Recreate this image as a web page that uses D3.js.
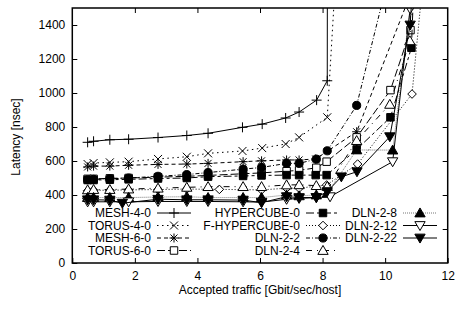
<!DOCTYPE html>
<html>
<head>
<meta charset="utf-8">
<script src="https://cdn.jsdelivr.net/npm/d3@7"></script>
<style>
body { margin: 0; background: #fff; }
svg text { font-family: "Liberation Sans", Arial, sans-serif; font-size: 12px; fill: #000; }
</style>
</head>
<body>
<div id="viz"></div>
<script>
// ---- data ----
var xTicks = [0, 2, 4, 6, 8, 10, 12]
var yTicks = [0, 200, 400, 600, 800, 1000, 1200, 1400]

var mesh40 = [[0.49,710],[0.68,716],[1.2,725],[1.8,728],[2.74,738],[3.66,750],[4.34,763],[5.44,798],[6.07,817],[6.82,853],[7.25,888],[7.81,958],[8.15,1072],[8.16,3000]]
var torus40 = [[0.49,582],[0.68,588],[1.2,592],[1.8,596],[2.74,612],[3.66,625],[4.34,645],[5.44,659],[6.07,676],[6.82,700],[7.25,739],[8.15,857],[8.5,1940]]
var mesh60 = [[0.49,565],[0.68,570],[1.2,570],[1.8,575],[2.74,580],[3.66,582],[4.34,586],[5.46,596],[6.05,601],[6.85,606],[7.25,606],[7.78,612],[9.09,772],[10.85,1600]]
var torus60 = [[0.49,495],[0.68,495],[1.2,498],[1.8,500],[2.74,505],[3.66,510],[4.34,515],[5.46,525],[6.05,530],[6.85,540],[7.25,545],[7.8,560],[8.13,596],[9.09,739],[10.17,1017],[10.81,1370],[10.78,1650]]
var hyper0 = [[0.49,488],[0.68,488],[1.2,490],[1.8,492],[2.74,497],[3.66,500],[4.34,508],[5.46,512],[6.05,515],[6.85,517],[7.25,517],[7.78,517],[8.13,517],[9.09,668],[10.17,857],[10.84,1266],[10.92,1650]]
var fhyper0 = [[0.49,425],[0.68,428],[1.2,428],[1.8,430],[2.74,432],[3.66,435],[4.7,433],[6.05,430],[6.85,440],[7.25,440],[8.13,459],[9.12,582],[10.86,994],[11.15,1550]]
var dln22 = [[0.49,490],[0.68,492],[1.2,495],[1.8,500],[2.74,510],[3.66,520],[4.34,532],[5.46,552],[6.05,562],[6.85,586],[7.25,586],[7.8,611],[8.15,660],[9.09,927],[10.4,1900]]
var dln24 = [[0.49,430],[0.68,432],[1.2,432],[1.8,435],[2.74,440],[3.66,445],[4.34,449],[5.46,449],[6.05,449],[6.85,459],[7.25,460],[7.8,455],[8.15,450],[9.09,720],[10.15,933],[10.79,1307],[10.95,1650]]
var dln28 = [[0.49,385],[0.68,385],[1.2,385],[1.8,385],[2.74,388],[3.66,390],[4.34,385],[5.46,385],[6.05,385],[6.85,400],[7.25,395],[7.8,400],[8.15,410],[9.09,665],[10.24,664],[10.9,1650]]
var dln212 = [[0.49,360],[0.68,360],[1.2,360],[1.8,360],[2.74,362],[3.66,362],[4.34,362],[5.46,360],[6.05,358],[6.85,375],[7.25,380],[7.8,385],[8.24,390],[10.24,596],[10.8,1495],[10.85,1700]]
var dln222 = [[0.49,372],[0.68,372],[1.2,370],[1.6,352],[2.74,375],[3.66,372],[4.34,372],[5.46,370],[6.05,355],[6.85,390],[7.25,385],[7.8,385],[8.15,420],[8.6,507],[9.1,537],[10.15,743],[10.8,1400],[10.9,1700]]

var names = ["MESH-4-0","TORUS-4-0","MESH-6-0","TORUS-6-0","HYPERCUBE-0","F-HYPERCUBE-0","DLN-2-2","DLN-2-4","DLN-2-8","DLN-2-12","DLN-2-22"]
var values = [mesh40, torus40, mesh60, torus60, hyper0, fhyper0, dln22, dln24, dln28, dln212, dln222]

// styles (line dash, color, marker) in the same order
var dashes = [null, "1.5,3.5", "4,3", "8,3", "8,3,3,3", "1,2", "4,2,1,2", "6,5,1,5", "1,1", null, null]
var colors = ["#000","#000","#000","#000","#000","#000","#000","#000","#777","#000","#000"]
var markers = ["plus","cross","star","osquare","fsquare","odiamond","fcircle","otri","ftri","oitri","fitri"]

// legend slots: column, row
var legendCol = [0,0,0,0,1,1,1,1,2,2,2]
var legendRow = [0,1,2,3,0,1,2,3,0,1,2]
var colTextEnd = [151, 300, 397]
var rowY = [213, 225.5, 238, 250.5]

var W = 455, H = 310
var pLeft = 72.3, pRight = 447.7, pTop = 8, pBottom = 263

var x = d3.scaleLinear().domain([0, 12]).range([pLeft, pRight])
var y = d3.scaleLinear().domain([0, 1500]).range([pBottom, pTop])

var svg = d3.select("#viz").append("svg")
  .attr("width", W)
  .attr("height", H)

svg.append("clipPath").attr("id", "clip")
  .append("rect")
  .attr("x", pLeft).attr("y", pTop)
  .attr("width", pRight - pLeft).attr("height", pBottom - pTop)

// axes, ticks pointing inward like gnuplot
function styleAxis(g) {
  g.select(".domain").remove()
  g.selectAll(".tick line").attr("stroke", "#000").attr("stroke-width", 1)
  g.selectAll("text").attr("font-size", 12).attr("font-family", "Liberation Sans, Arial, sans-serif")
}

svg.append("g")
  .attr("transform", "translate(0," + pBottom + ")")
  .call(d3.axisBottom(x).tickValues(xTicks).tickSizeInner(-5).tickSizeOuter(0).tickPadding(8).tickFormat(d3.format("d")))
  .call(styleAxis)

svg.append("g")
  .attr("transform", "translate(0," + pTop + ")")
  .call(d3.axisTop(x).tickValues(xTicks.slice(1, -1)).tickSizeInner(-5).tickSizeOuter(0).tickFormat(""))
  .call(styleAxis)

svg.append("g")
  .attr("transform", "translate(" + pLeft + ",0)")
  .call(d3.axisLeft(y).tickValues(yTicks).tickSizeInner(-5).tickSizeOuter(0).tickPadding(7).tickFormat(d3.format("d")))
  .call(styleAxis)

svg.append("g")
  .attr("transform", "translate(" + pRight + ",0)")
  .call(d3.axisRight(y).tickValues(yTicks.slice(1)).tickSizeInner(-5).tickSizeOuter(0).tickFormat(""))
  .call(styleAxis)

// axis titles
svg.append("text")
  .attr("x", (pLeft + pRight) / 2)
  .attr("y", 294)
  .attr("text-anchor", "middle")
  .text("Accepted traffic [Gbit/sec/host]")

svg.append("text")
  .attr("transform", "translate(20," + 137 + ") rotate(-90)")
  .attr("text-anchor", "middle")
  .text("Latency [nsec]")

// marker drawing
function drawMarker(g, type, color) {
  var sq = d3.symbol().type(d3.symbolSquare).size(56)
  var ci = d3.symbol().type(d3.symbolCircle).size(52)
  var tr = d3.symbol().type(d3.symbolTriangle).size(46)
  if (type == "plus") {
    g.append("path").attr("d", "M-5,0H5M0,-5V5").attr("stroke", color).attr("fill", "none")
  }
  if (type == "cross") {
    g.append("path").attr("d", "M-4,-4L4,4M-4,4L4,-4").attr("stroke", color).attr("fill", "none")
  }
  if (type == "star") {
    g.append("path").attr("d", "M-4.5,0H4.5M0,-4.5V4.5M-3.5,-3.5L3.5,3.5M-3.5,3.5L3.5,-3.5").attr("stroke", color).attr("fill", "none")
  }
  if (type == "osquare" || type == "fsquare") {
    g.append("path").attr("d", sq())
      .attr("stroke", color)
      .attr("fill", type == "fsquare" ? color : "#fff")
  }
  if (type == "odiamond") {
    g.append("path").attr("d", "M0,-4.3L4.3,0L0,4.3L-4.3,0Z").attr("stroke", color).attr("fill", "#fff")
  }
  if (type == "fcircle") {
    g.append("path").attr("d", ci()).attr("stroke", color).attr("fill", color)
  }
  if (type == "otri" || type == "ftri") {
    g.append("path").attr("d", tr())
      .attr("transform", "translate(0,0.9)")
      .attr("stroke", color)
      .attr("fill", type == "ftri" ? color : "#fff")
  }
  if (type == "oitri" || type == "fitri") {
    g.append("path").attr("d", tr())
      .attr("transform", "translate(0,-0.9) rotate(180)")
      .attr("stroke", color)
      .attr("fill", type == "fitri" ? color : "#fff")
  }
}

var line = d3.line()
  .x(function(d) { return x(d[0]) })
  .y(function(d) { return y(d[1]) })

var plot = svg.append("g").attr("clip-path", "url(#clip)")

values.forEach(function(arr, i) {
  var s = plot.append("g")
  s.append("path")
    .datum(arr)
    .attr("d", line)
    .attr("fill", "none")
    .attr("stroke", colors[i])
    .attr("stroke-width", 1)
    .attr("stroke-dasharray", dashes[i])

  arr.filter(function(d) { return d[1] <= 1500 }).forEach(function(d) {
    var m = s.append("g").attr("transform", "translate(" + x(d[0]) + "," + y(d[1]) + ")")
    drawMarker(m, markers[i], colors[i] == "#777" ? "#000" : colors[i])
  })
})

// legend
var legend = svg.append("g")
names.forEach(function(name, i) {
  var tx = colTextEnd[legendCol[i]]
  var ty = rowY[legendRow[i]]
  legend.append("text")
    .attr("x", tx)
    .attr("y", ty)
    .attr("dy", "0.35em")
    .attr("text-anchor", "end")
    .text(name)
  var x0 = tx + 6, x1 = tx + 40
  legend.append("line")
    .attr("x1", x0).attr("x2", x1)
    .attr("y1", ty).attr("y2", ty)
    .attr("stroke", colors[i])
    .attr("stroke-dasharray", dashes[i])
  var m = legend.append("g").attr("transform", "translate(" + ((x0 + x1) / 2) + "," + ty + ")")
  drawMarker(m, markers[i], colors[i] == "#777" ? "#000" : colors[i])
})

// border
svg.append("rect")
  .attr("x", pLeft).attr("y", pTop)
  .attr("width", pRight - pLeft).attr("height", pBottom - pTop)
  .attr("fill", "none")
  .attr("stroke", "#000")
  .attr("stroke-width", 1.5)
</script>
</body>
</html>
